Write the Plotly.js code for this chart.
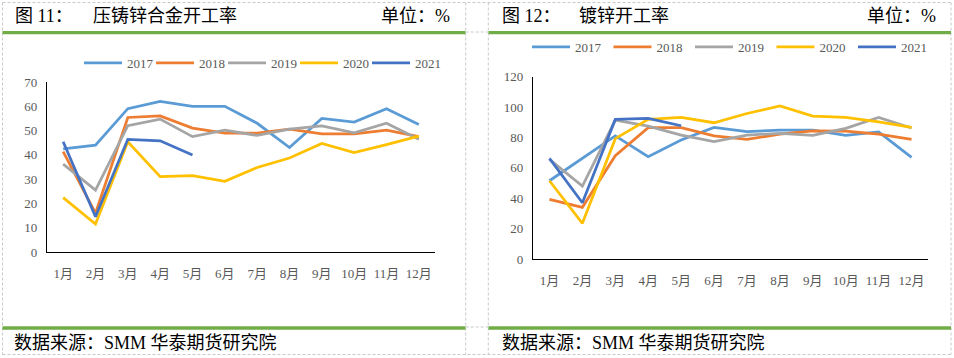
<!DOCTYPE html>
<html>
<head>
<meta charset="utf-8">
<script src="https://cdn.plot.ly/plotly-3.0.1.min.js"></script>
<style>
  html, body { margin: 0; padding: 0; background: #fff; overflow: hidden; width: 954px; height: 358px; }
  #chart { width: 954px; height: 358px; overflow: hidden; }
</style>
</head>
<body>
<div id="chart"></div>
<script>
// ---- data ----
const months = ["1月","2月","3月","4月","5月","6月","7月","8月","9月","10月","11月","12月"];
const years = ["2017","2018","2019","2020","2021"];
const colors = ["#5B9BD5","#ED7D31","#A5A5A5","#FFC000","#4472C4"];

// 图11 压铸锌合金开工率
const die2017 = [42.5, 44, 59, 62, 60, 60, 53, 43, 55, 53.5, 59, 52.5];
const die2018 = [41.3, 16, 55.4, 56, 51, 49, 49, 50.6, 48.6, 48.6, 50.2, 47.5];
const die2019 = [36.2, 25.5, 52, 54.7, 47.5, 50.2, 48, 50.6, 51.9, 49.1, 53, 46.4];
const die2020 = [22.4, 11.5, 45.4, 31, 31.4, 29.1, 34.8, 38.7, 44.7, 40.9, 44.2, 47.7];
const die2021 = [45.4, 14.5, 46.4, 45.8, 39.9];

// 图12 镀锌开工率
const gal2017 = [51.5, 66, 81, 67.3, 78.3, 86.6, 83.8, 84.9, 84.9, 81.4, 83.6, 66.9];
const gal2018 = [39.3, 34, 68, 86.4, 86.4, 81, 78.7, 82.2, 84.4, 84.2, 82.2, 78.7];
const gal2019 = [65.6, 48, 91.4, 87.5, 81.6, 77.2, 81.6, 82.7, 81.4, 86, 93.2, 86.2];
const gal2020 = [51.5, 23.5, 79.2, 91.9, 93.2, 89.7, 95.8, 100.7, 94.1, 93.2, 90.3, 86.6];
const gal2021 = [66.2, 37, 91.9, 92.5, 87.7];

const dieSeries = [die2017, die2018, die2019, die2020, die2021];
const galSeries = [gal2017, gal2018, gal2019, gal2020, gal2021];

// ---- layout helpers ----
const W = 954, H = 358;
const px = x => x / W;
const py = y => 1 - y / H;

const traces = [];
dieSeries.forEach((vals, i) => {
  const t = {
    type: "scatter", mode: "lines", name: years[i],
    x: months.slice(0, vals.length), y: vals,
    xaxis: "x", yaxis: "y", legend: "legend",
    line: { color: colors[i], width: 2.75 },
    hoverinfo: "skip"
  };
  if (i === years.length - 1) t.legendwidth = 32;
  traces.push(t);
});
galSeries.forEach((vals, i) => {
  const t = {
    type: "scatter", mode: "lines", name: years[i],
    x: months.slice(0, vals.length), y: vals,
    xaxis: "x2", yaxis: "y2", legend: "legend2",
    line: { color: colors[i], width: 2.75 },
    hoverinfo: "skip"
  };
  if (i === years.length - 1) t.legendwidth = 32;
  traces.push(t);
});

const tickFont = { family: "Liberation Serif, 'Noto Sans CJK SC', serif", size: 13, color: "#595959" };
const titleFont = { family: "'Liberation Serif', 'Noto Sans CJK SC', serif", size: 18, color: "#000" };

function xAxis(domain, anchor) {
  return {
    domain: domain, anchor: anchor, type: "category",
    categoryorder: "array", categoryarray: months,
    range: [-0.5, 11.5], showgrid: false, zeroline: false,
    showline: true, linecolor: "#000", linewidth: 1.25,
    ticks: "outside", ticklen: 9, tickcolor: "rgba(0,0,0,0)",
    tickfont: tickFont, fixedrange: true
  };
}
function yAxis(domain, anchor, range, dtick) {
  return {
    domain: domain, anchor: anchor, range: range, dtick: dtick,
    showgrid: false, zeroline: false,
    showline: true, linecolor: "#000", linewidth: 1.25,
    ticks: "outside", ticklen: 6, tickcolor: "rgba(0,0,0,0)",
    tickfont: tickFont, fixedrange: true
  };
}

const green = "#70AD47";
const dashC = "#C8C8C8";
function hline(x0, x1, y, color, width, dash) {
  return { type: "line", xref: "paper", yref: "paper", x0: px(x0), x1: px(x1), y0: py(y), y1: py(y),
           line: { color: color, width: width, dash: dash || "solid" }, layer: "above" };
}
function vline(x, y0, y1) {
  return { type: "line", xref: "paper", yref: "paper", x0: px(x), x1: px(x), y0: py(y0), y1: py(y1),
           line: { color: dashC, width: 1, dash: "3px,2px" }, layer: "below" };
}

const shapes = [
  // dashed frame
  hline(2.5, 951, 2.5, dashC, 1, "3px,2px"),
  hline(2.5, 951, 354.5, dashC, 1, "3px,2px"),
  hline(465.7, 488.3, 32, dashC, 1, "3px,2px"),
  hline(465.7, 488.3, 327, dashC, 1, "3px,2px"),
  vline(2.5, 2.5, 354.5),
  vline(465.7, 2.5, 354.5),
  vline(488.3, 2.5, 354.5),
  vline(951, 2.5, 354.5),
  // green bars
  hline(2.5, 465.5, 32.7, green, 3.3),
  hline(488.5, 951, 32.7, green, 3.3),
  hline(2.5, 465.5, 328, green, 3.3),
  hline(488.5, 951, 328, green, 3.3)
];

function ann(text, x, y, xanchor) {
  return { text: text, xref: "paper", yref: "paper", x: px(x), y: py(y),
           xanchor: xanchor, yanchor: "middle", showarrow: false, font: titleFont };
}
const annotations = [
  ann("图 11：", 13, 16, "left"),
  ann("压铸锌合金开工率", 91, 16, "left"),
  ann("单位：%", 452, 16, "right"),
  ann("图 12：", 500, 16, "left"),
  ann("镀锌开工率", 577, 16, "left"),
  ann("单位：%", 938, 16, "right"),
  ann("数据来源：SMM 华泰期货研究院", 12, 342.5, "left"),
  ann("数据来源：SMM 华泰期货研究院", 500, 342.5, "left")
];

const legendFont = { family: "Liberation Serif, serif", size: 13, color: "#595959" };
const layout = {
  width: W, height: H,
  margin: { l: 0, r: 0, t: 0, b: 0 },
  paper_bgcolor: "#fff", plot_bgcolor: "#fff",
  font: { family: "Liberation Serif, 'Noto Sans CJK SC', serif" },
  xaxis: xAxis([px(47), px(435)], "y"),
  yaxis: yAxis([py(252), py(82)], "x", [0, 70], 10),
  xaxis2: xAxis([px(533), px(928)], "y2"),
  yaxis2: yAxis([py(259), py(76.7)], "x2", [0, 120], 20),
  legend: {
    orientation: "h", x: px(79), y: py(63), xanchor: "left", yanchor: "middle",
    font: legendFont, itemwidth: 38, entrywidth: 19, bgcolor: "rgba(0,0,0,0)", borderwidth: 0
  },
  legend2: {
    orientation: "h", x: px(527), y: py(47), xanchor: "left", yanchor: "middle",
    font: legendFont, itemwidth: 38, entrywidth: 28.5, bgcolor: "rgba(0,0,0,0)", borderwidth: 0
  },
  showlegend: true,
  shapes: shapes,
  annotations: annotations
};

Plotly.newPlot("chart", traces, layout, { displayModeBar: false, staticPlot: true });
</script>
</body>
</html>
